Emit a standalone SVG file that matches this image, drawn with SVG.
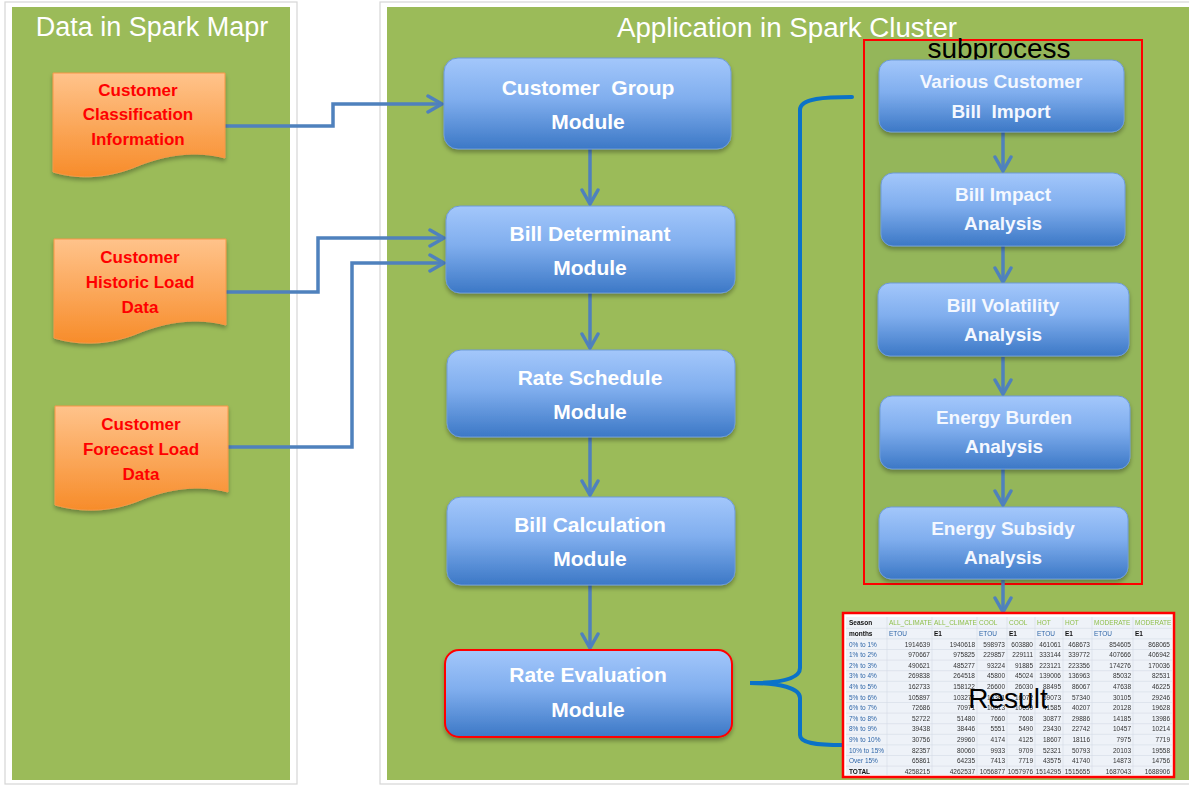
<svg xmlns="http://www.w3.org/2000/svg" width="1189" height="786" viewBox="0 0 1189 786">
  <style>
    .panel-frame { fill: #ffffff; stroke: #d6d6d6; stroke-width: 1.2; }
    .panel { fill: #9bbb59; }
    .panel-title { font-family: "Liberation Sans", Arial, sans-serif; font-size: 27px; fill: #ffffff; text-anchor: middle; }
    .doc { fill: url(#docGrad); stroke: #f79646; stroke-width: 1; filter: url(#shadow); }
    .doc-text { font-family: "Liberation Sans", Arial, sans-serif; font-size: 17px; font-weight: bold; fill: #ff0000; text-anchor: middle; }
    .module { fill: url(#modGrad); stroke: #6e9bd8; stroke-width: 1; filter: url(#shadow); }
    .module-text { font-family: "Liberation Sans", Arial, sans-serif; font-size: 21px; font-weight: bold; fill: #ffffff; text-anchor: middle; }
    .sub-text { font-family: "Liberation Sans", Arial, sans-serif; font-size: 19px; font-weight: bold; fill: #f4f8ff; text-anchor: middle; }
    .link { fill: none; stroke: #4f81bd; stroke-width: 3.5; stroke-linejoin: miter; }
    .brace { fill: none; stroke: #0a72c8; stroke-width: 4; stroke-linecap: round; }
    .label { font-family: "Liberation Sans", Arial, sans-serif; fill: #000000; text-anchor: middle; }
    .tbl { font-family: "Liberation Sans", Arial, sans-serif; font-size: 6.5px; }
    .num { fill: #333333; text-anchor: end; }
    .rowlab { fill: #2f66a8; }
    .hdr-green { fill: #8fbf4a; }
    .hdr-blue { fill: #2f66a8; }
    .hdr-black { fill: #111111; font-weight: bold; }
  </style>
  <defs>
    <linearGradient id="modGrad" x1="0" y1="0" x2="0" y2="1">
      <stop offset="0" stop-color="#a3c7fb"/>
      <stop offset="0.45" stop-color="#80aeee"/>
      <stop offset="1" stop-color="#3c78c6"/>
    </linearGradient>
    <linearGradient id="docGrad" x1="0" y1="0" x2="0" y2="1">
      <stop offset="0" stop-color="#ffc38b"/>
      <stop offset="1" stop-color="#f78c2a"/>
    </linearGradient>
    <filter id="shadow" x="-10%" y="-10%" width="120%" height="130%">
      <feDropShadow dx="0" dy="3" stdDeviation="2" flood-color="#000000" flood-opacity="0.3"/>
    </filter>
    <filter id="soft" x="-2%" y="-2%" width="104%" height="104%">
      <feGaussianBlur stdDeviation="0.3"/>
    </filter>
    <marker id="chev" viewBox="0 0 20 20" refX="17" refY="10" markerWidth="20" markerHeight="20" markerUnits="userSpaceOnUse" orient="auto">
      <path d="M3,2 L17,10 L3,18" fill="none" stroke="#4f81bd" stroke-width="3.5" stroke-linecap="round" stroke-linejoin="miter"/>
    </marker>
  </defs>

  <!-- background panels -->
  <rect width="1189" height="786" fill="#ffffff"/>
  <rect class="panel-frame" x="5" y="2" width="292" height="782"/>
  <rect class="panel" x="12" y="7" width="278" height="773"/>
  <rect class="panel-frame" x="380" y="2" width="815" height="782"/>
  <rect class="panel" x="387" y="7" width="802" height="773"/>
  <text class="panel-title" x="152" y="36">Data in Spark Mapr</text>
  <text class="panel-title" x="787" y="37" textLength="340" lengthAdjust="spacingAndGlyphs">Application in Spark Cluster</text>

  <!-- subprocess frame -->
  <g id="subprocess">
    <rect x="864" y="40" width="278" height="544" fill="#94b65a" stroke="#ff0000" stroke-width="2"/>
    <text class="label" x="999" y="58" font-size="28">subprocess</text>
  </g>

  <!-- connectors -->
  <g id="connectors">
    <path class="link" d="M225,126 H333 V104 H442" marker-end="url(#chev)"/>
    <path class="link" d="M226,292 H318 V238 H444" marker-end="url(#chev)"/>
    <path class="link" d="M228,447 H352 V263 H444" marker-end="url(#chev)"/>
    <path class="link" d="M590,149 V204" marker-end="url(#chev)"/>
    <path class="link" d="M590,293 V348" marker-end="url(#chev)"/>
    <path class="link" d="M590,437 V495" marker-end="url(#chev)"/>
    <path class="link" d="M590,585 V648" marker-end="url(#chev)"/>
    <path class="link" d="M1003,132 V171" marker-end="url(#chev)"/>
    <path class="link" d="M1003,246 V282" marker-end="url(#chev)"/>
    <path class="link" d="M1003,357 V394" marker-end="url(#chev)"/>
    <path class="link" d="M1003,469 V505" marker-end="url(#chev)"/>
    <path class="link" d="M1003,580 V612" marker-end="url(#chev)"/>
    <path class="brace" d="M852,97 C826,97 800,98 800,110 V668 C800,679 780,683 750,683 C780,683 800,688 800,698 V735 C800,743 815,745 843,745"/>
  </g>

  <!-- data sources -->
  <g id="doc-classification">
    <path class="doc" d="M53,73 H225 V158 C195,150 166,155 140,165 C110,178 80,180 53,172 Z"/>
    <text class="doc-text" x="138" y="96">Customer</text>
    <text class="doc-text" x="138" y="120">Classification</text>
    <text class="doc-text" x="138" y="145">Information</text>
  </g>
  <g id="doc-historic">
    <path class="doc" d="M54,239 H226 V325 C196,317 167,322 141,332 C111,345 81,346 54,338 Z"/>
    <text class="doc-text" x="140" y="263">Customer</text>
    <text class="doc-text" x="140" y="288">Historic Load</text>
    <text class="doc-text" x="140" y="313">Data</text>
  </g>
  <g id="doc-forecast">
    <path class="doc" d="M55,406 H228 V492 C198,484 169,489 143,499 C113,512 83,513 55,505 Z"/>
    <text class="doc-text" x="141" y="430">Customer</text>
    <text class="doc-text" x="141" y="455">Forecast Load</text>
    <text class="doc-text" x="141" y="480">Data</text>
  </g>

  <!-- main modules -->
  <g id="customer-group">
    <rect class="module" x="444" y="58" width="287" height="91" rx="14"/>
    <text class="module-text" x="588" y="95" xml:space="preserve">Customer  Group</text>
    <text class="module-text" x="588" y="129">Module</text>
  </g>
  <g id="bill-determinant">
    <rect class="module" x="446" y="206" width="289" height="87" rx="14"/>
    <text class="module-text" x="590" y="241">Bill Determinant</text>
    <text class="module-text" x="590" y="275">Module</text>
  </g>
  <g id="rate-schedule">
    <rect class="module" x="447" y="350" width="288" height="87" rx="14"/>
    <text class="module-text" x="590" y="385">Rate Schedule</text>
    <text class="module-text" x="590" y="419">Module</text>
  </g>
  <g id="bill-calculation">
    <rect class="module" x="447" y="497" width="288" height="88" rx="14"/>
    <text class="module-text" x="590" y="532">Bill Calculation</text>
    <text class="module-text" x="590" y="566">Module</text>
  </g>
  <g id="rate-evaluation">
    <rect class="module" x="445" y="650" width="287" height="87" rx="14" style="stroke:#ff0000;stroke-width:2"/>
    <text class="module-text" x="588" y="682">Rate Evaluation</text>
    <text class="module-text" x="588" y="717">Module</text>
  </g>

  <!-- subprocess steps -->
  <g id="bill-import">
    <rect class="module" x="879" y="60" width="245" height="72" rx="12"/>
    <text class="sub-text" x="1001" y="88">Various Customer</text>
    <text class="sub-text" x="1001" y="118" xml:space="preserve">Bill  Import</text>
  </g>
  <g id="bill-impact">
    <rect class="module" x="881" y="173" width="244" height="73" rx="12"/>
    <text class="sub-text" x="1003" y="201">Bill Impact</text>
    <text class="sub-text" x="1003" y="230">Analysis</text>
  </g>
  <g id="bill-volatility">
    <rect class="module" x="878" y="283" width="251" height="73" rx="12"/>
    <text class="sub-text" x="1003" y="312">Bill Volatility</text>
    <text class="sub-text" x="1003" y="341">Analysis</text>
  </g>
  <g id="energy-burden">
    <rect class="module" x="880" y="396" width="250" height="73" rx="12"/>
    <text class="sub-text" x="1004" y="424">Energy Burden</text>
    <text class="sub-text" x="1004" y="453">Analysis</text>
  </g>
  <g id="energy-subsidy">
    <rect class="module" x="879" y="507" width="249" height="72" rx="12"/>
    <text class="sub-text" x="1003" y="535">Energy Subsidy</text>
    <text class="sub-text" x="1003" y="564">Analysis</text>
  </g>

  <!-- result table -->
  <g id="result">
    <rect x="843" y="613" width="331" height="164" fill="#ffffff" stroke="#ff0000" stroke-width="2.5"/>
    <g filter="url(#soft)">
      <rect x="846" y="617" width="326" height="158" fill="#eef2f8"/>
      <g stroke="#d3dae5" stroke-width="0.6">
        <path d="M846,628.3 H1172 M846,638.9 H1172 M846,649.5 H1172 M846,660.1 H1172 M846,670.7 H1172 M846,681.3 H1172 M846,691.9 H1172 M846,702.5 H1172 M846,713.1 H1172 M846,723.7 H1172 M846,734.3 H1172 M846,744.9 H1172 M846,755.5 H1172 M846,766.1 H1172"/>
        <path d="M887,617 V775 M932,617 V775 M977,617 V775 M1007,617 V775 M1035,617 V775 M1063,617 V775 M1092,617 V775 M1133,617 V775"/>
      </g>
      <g class="tbl">
        <text x="849" y="625.3" class="hdr-black">Season</text>
        <text y="625.3" class="hdr-green"><tspan x="889">ALL_CLIMATE</tspan><tspan x="934">ALL_CLIMATE</tspan><tspan x="979">COOL</tspan><tspan x="1009">COOL</tspan><tspan x="1037">HOT</tspan><tspan x="1065">HOT</tspan><tspan x="1094">MODERATE</tspan><tspan x="1135">MODERATE</tspan></text>
        <text x="849" y="635.9" class="hdr-black">months</text>
        <text y="635.9" class="hdr-blue"><tspan x="889">ETOU</tspan><tspan x="979">ETOU</tspan><tspan x="1037">ETOU</tspan><tspan x="1094">ETOU</tspan></text>
        <text y="635.9" class="hdr-black"><tspan x="934">E1</tspan><tspan x="1009">E1</tspan><tspan x="1065">E1</tspan><tspan x="1135">E1</tspan></text>

        <g class="rowlab">
          <text x="849" y="646.5">0% to 1%</text>
          <text x="849" y="657.1">1% to 2%</text>
          <text x="849" y="667.7">2% to 3%</text>
          <text x="849" y="678.3">3% to 4%</text>
          <text x="849" y="688.9">4% to 5%</text>
          <text x="849" y="699.5">5% to 6%</text>
          <text x="849" y="710.1">6% to 7%</text>
          <text x="849" y="720.7">7% to 8%</text>
          <text x="849" y="731.3">8% to 9%</text>
          <text x="849" y="741.9">9% to 10%</text>
          <text x="849" y="752.5">10% to 15%</text>
          <text x="849" y="763.1">Over 15%</text>
        </g>
        <text x="849" y="773.7" class="hdr-black">TOTAL</text>

        <g class="num">
          <text y="646.5"><tspan x="930">1914639</tspan><tspan x="975">1940618</tspan><tspan x="1005">598973</tspan><tspan x="1033">603880</tspan><tspan x="1061">461061</tspan><tspan x="1090">468673</tspan><tspan x="1131">854605</tspan><tspan x="1170">868065</tspan></text>
          <text y="657.1"><tspan x="930">970667</tspan><tspan x="975">975825</tspan><tspan x="1005">229857</tspan><tspan x="1033">229111</tspan><tspan x="1061">333144</tspan><tspan x="1090">339772</tspan><tspan x="1131">407666</tspan><tspan x="1170">406942</tspan></text>
          <text y="667.7"><tspan x="930">490621</tspan><tspan x="975">485277</tspan><tspan x="1005">93224</tspan><tspan x="1033">91885</tspan><tspan x="1061">223121</tspan><tspan x="1090">223356</tspan><tspan x="1131">174276</tspan><tspan x="1170">170036</tspan></text>
          <text y="678.3"><tspan x="930">269838</tspan><tspan x="975">264518</tspan><tspan x="1005">45800</tspan><tspan x="1033">45024</tspan><tspan x="1061">139006</tspan><tspan x="1090">136963</tspan><tspan x="1131">85032</tspan><tspan x="1170">82531</tspan></text>
          <text y="688.9"><tspan x="930">162733</tspan><tspan x="975">158122</tspan><tspan x="1005">26600</tspan><tspan x="1033">26030</tspan><tspan x="1061">88495</tspan><tspan x="1090">86067</tspan><tspan x="1131">47638</tspan><tspan x="1170">46225</tspan></text>
          <text y="699.5"><tspan x="930">105897</tspan><tspan x="975">103274</tspan><tspan x="1005">16381</tspan><tspan x="1033">16072</tspan><tspan x="1061">59073</tspan><tspan x="1090">57340</tspan><tspan x="1131">30105</tspan><tspan x="1170">29246</tspan></text>
          <text y="710.1"><tspan x="930">72686</tspan><tspan x="975">70971</tspan><tspan x="1005">10813</tspan><tspan x="1033">10630</tspan><tspan x="1061">41585</tspan><tspan x="1090">40207</tspan><tspan x="1131">20128</tspan><tspan x="1170">19628</tspan></text>
          <text y="720.7"><tspan x="930">52722</tspan><tspan x="975">51480</tspan><tspan x="1005">7660</tspan><tspan x="1033">7608</tspan><tspan x="1061">30877</tspan><tspan x="1090">29886</tspan><tspan x="1131">14185</tspan><tspan x="1170">13986</tspan></text>
          <text y="731.3"><tspan x="930">39438</tspan><tspan x="975">38446</tspan><tspan x="1005">5551</tspan><tspan x="1033">5490</tspan><tspan x="1061">23430</tspan><tspan x="1090">22742</tspan><tspan x="1131">10457</tspan><tspan x="1170">10214</tspan></text>
          <text y="741.9"><tspan x="930">30756</tspan><tspan x="975">29960</tspan><tspan x="1005">4174</tspan><tspan x="1033">4125</tspan><tspan x="1061">18607</tspan><tspan x="1090">18116</tspan><tspan x="1131">7975</tspan><tspan x="1170">7719</tspan></text>
          <text y="752.5"><tspan x="930">82357</tspan><tspan x="975">80060</tspan><tspan x="1005">9933</tspan><tspan x="1033">9709</tspan><tspan x="1061">52321</tspan><tspan x="1090">50793</tspan><tspan x="1131">20103</tspan><tspan x="1170">19558</tspan></text>
          <text y="763.1"><tspan x="930">65861</tspan><tspan x="975">64235</tspan><tspan x="1005">7413</tspan><tspan x="1033">7719</tspan><tspan x="1061">43575</tspan><tspan x="1090">41740</tspan><tspan x="1131">14873</tspan><tspan x="1170">14756</tspan></text>
          <text y="773.7"><tspan x="930">4258215</tspan><tspan x="975">4262537</tspan><tspan x="1005">1056877</tspan><tspan x="1033">1057976</tspan><tspan x="1061">1514295</tspan><tspan x="1090">1515655</tspan><tspan x="1131">1687043</tspan><tspan x="1170">1688906</tspan></text>
        </g>
      </g>
    </g>
    <text class="label" x="1008" y="708" font-size="28">Result</text>
  </g>
</svg>
